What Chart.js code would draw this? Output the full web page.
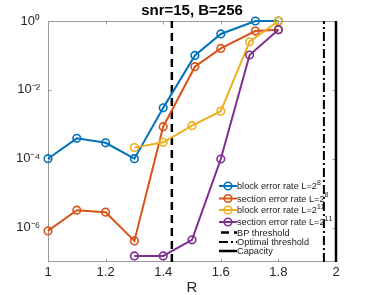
<!DOCTYPE html>
<html>
<head>
<meta charset="utf-8">
<script src="https://cdn.jsdelivr.net/npm/chart.js@4"></script>
<style>
html,body{margin:0;padding:0;background:#fff;}
#wrap{width:374px;height:295px;}
</style>
</head>
<body>
<div id="wrap"><canvas id="c" width="374" height="295"></canvas></div>
<script>
// ---- data ----
const rateL8 = [1, 1.1, 1.2, 1.3, 1.4, 1.51, 1.6, 1.72, 1.8];
const blockL8 = [1.0e-4, 3.9e-4, 2.9e-4, 1.0e-4, 3.0e-3, 0.10, 0.42, 1, 1];
const sectionL8 = [8e-7, 3.2e-6, 2.8e-6, 4.1e-7, 8.5e-4, 0.047, 0.16, 0.51, 0.56];
const rateL11 = [1.3, 1.4, 1.5, 1.6, 1.7, 1.8];
const blockL11 = [2.1e-4, 3.0e-4, 9.1e-4, 2.4e-3, 0.25, 1];
const sectionL11 = [1.5e-7, 1.5e-7, 4.4e-7, 9.8e-5, 0.103, 0.56];
const thresholdNames = ['BP threshold', 'Optimal threshold', 'Capacity'];
const thresholdValues = [1.43, 1.958, 2];
const seriesNames = ['block error rate L=2⁸', 'section error rate L=2⁸', 'block error rate L=2¹¹', 'section error rate L=2¹¹'];
const xTickValues = [1, 1.2, 1.4, 1.6, 1.8, 2];
const xTickLabels = ['1', '1.2', '1.4', '1.6', '1.8', '2'];
const yTickValues = [1e-6, 1e-4, 1e-2, 1];
const yTickLabels = ['10⁻⁶', '10⁻⁴', '10⁻²', '10⁰'];
const xRange = [1, 2];
const yRange = [1e-7, 1];
const titleText = 'snr=15, B=256';
const xTitle = 'R';

// ---- styles ----
const colors = ['#0072BD', '#D95319', '#EDB120', '#7E2F8E'];
const dashes = [[8, 5], [9, 3, 2, 3], []];
const FONT = "'Liberation Sans', Arial, Helvetica, sans-serif";
Chart.defaults.font.family = FONT;
Chart.defaults.color = '#262626';

const pts = (xs, ys) => xs.map((x, i) => ({x: x, y: ys[i]}));
const seriesData = [pts(rateL8, blockL8), pts(rateL8, sectionL8), pts(rateL11, blockL11), pts(rateL11, sectionL11)];

const datasets = seriesData.map((d, i) => ({
  label: seriesNames[i],
  data: d,
  borderColor: colors[i],
  backgroundColor: 'rgba(0,0,0,0)',
  borderWidth: 2,
  pointRadius: 3.8,
  pointBorderWidth: 1.6,
  pointBorderColor: colors[i],
  pointBackgroundColor: 'rgba(0,0,0,0)',
  pointStyle: 'circle',
  tension: 0,
  clip: false,
  order: 10 - i
}));
thresholdValues.forEach((t, i) => {
  datasets.push({
    label: thresholdNames[i],
    data: [{x: t, y: yRange[0]}, {x: t, y: yRange[1]}],
    borderColor: '#000',
    borderWidth: i === 1 ? 2 : 2.5,
    borderDash: dashes[i],
    pointRadius: 0,
    clip: false,
    order: 20 - i
  });
});

const axesPlugin = {
  id: 'axesBox',
  beforeDatasetsDraw(chart) {
    const ctx = chart.ctx, ca = chart.chartArea;
    const xs = chart.scales.x, ys = chart.scales.y;
    ctx.save();
    ctx.strokeStyle = '#9a9a9a';
    ctx.lineWidth = 1;
    const L = Math.round(ca.left) + 0.5, R = Math.round(ca.right) - 0.5;
    const T = Math.round(ca.top) + 0.5, B = Math.round(ca.bottom) - 0.5;
    ctx.strokeRect(L, T, R - L, B - T);
    ctx.beginPath();
    xTickValues.forEach(v => {
      const p = Math.round(xs.getPixelForValue(v)) + 0.5;
      ctx.moveTo(p, B); ctx.lineTo(p, B - 3);
      ctx.moveTo(p, T); ctx.lineTo(p, T + 3);
    });
    yTickValues.forEach(v => {
      const p = Math.round(ys.getPixelForValue(v)) + 0.5;
      ctx.moveTo(L, p); ctx.lineTo(L + 3, p);
      ctx.moveTo(R, p); ctx.lineTo(R - 3, p);
    });
    ctx.stroke();
    ctx.restore();
  }
};

const SUP = {'⁰':'0','¹':'1','²':'2','³':'3','⁴':'4','⁵':'5','⁶':'6','⁷':'7','⁸':'8','⁹':'9','⁻':'-'};
function drawRich(ctx, text, x, y, size) {
  let cx = x;
  for (const ch of text) {
    if (SUP[ch] !== undefined) {
      ctx.font = (size * 0.75) + 'px ' + FONT;
      ctx.fillText(SUP[ch], cx, y - size * 0.42);
      cx += ctx.measureText(SUP[ch]).width;
    } else {
      ctx.font = size + 'px ' + FONT;
      ctx.fillText(ch, cx, y);
      cx += ctx.measureText(ch).width;
    }
  }
}

const legendPlugin = {
  id: 'innerLegend',
  afterDraw(chart) {
    const ctx = chart.ctx;
    const rows = [186, 198.5, 210, 222, 232.5, 242, 251];
    const x0 = 219, x1 = 237, tx = 237;
    ctx.save();
    ctx.textBaseline = 'middle';
    ctx.textAlign = 'left';
    chart.data.datasets.forEach((ds, i) => {
      const y = rows[i];
      ctx.strokeStyle = ds.borderColor;
      ctx.lineWidth = ds.borderWidth;
      ctx.setLineDash(ds.borderDash || []);
      ctx.beginPath();
      const sx = i === 4 ? x0 + 2 : x0;
      ctx.moveTo(sx, y); ctx.lineTo(x1, y);
      ctx.stroke();
      ctx.setLineDash([]);
      if (ds.pointRadius) {
        ctx.lineWidth = ds.pointBorderWidth;
        ctx.beginPath();
        ctx.arc((x0 + x1) / 2, y, ds.pointRadius, 0, Math.PI * 2);
        ctx.stroke();
      }
      ctx.fillStyle = '#1a1a1a';
      drawRich(ctx, ds.label, tx, y + 0.5, 9.2);
    });
    ctx.restore();
  }
};

new Chart(document.getElementById('c'), {
  type: 'line',
  data: {datasets: datasets},
  options: {
    responsive: false,
    animation: false,
    events: [],
    layout: {padding: {left: 0, right: 38, top: 0, bottom: 0}},
    plugins: {
      legend: {display: false},
      tooltip: {enabled: false},
      title: {
        display: true,
        text: titleText,
        fullSize: false,
        color: '#000',
        font: {size: 15, weight: 'bold', lineHeight: 1.2},
        padding: {top: 2, bottom: 1}
      }
    },
    scales: {
      x: {
        type: 'linear',
        min: xRange[0], max: xRange[1],
        grid: {display: false, drawTicks: false},
        border: {display: false},
        afterBuildTicks: s => { s.ticks = xTickValues.map(v => ({value: v})); },
        afterFit: s => { s.height = 33; },
        ticks: {
          padding: 3,
          font: {size: 13},
          color: '#262626',
          maxRotation: 0,
          callback: (v, i) => xTickLabels[xTickValues.indexOf(v)]
        },
        title: {display: true, text: xTitle, font: {size: 15, lineHeight: 1}, color: '#262626', padding: {top: 0, bottom: 0}}
      },
      y: {
        type: 'logarithmic',
        min: yRange[0], max: yRange[1],
        grid: {display: false, drawTicks: false},
        border: {display: false},
        afterBuildTicks: s => { s.ticks = yTickValues.map(v => ({value: v})); },
        afterFit: s => { s.width = 48; },
        ticks: {
          padding: 8,
          font: {size: 13},
          color: '#262626',
          callback: (v) => yTickLabels[yTickValues.indexOf(v)]
        }
      }
    }
  },
  plugins: [axesPlugin, legendPlugin]
});
</script>
</body>
</html>
